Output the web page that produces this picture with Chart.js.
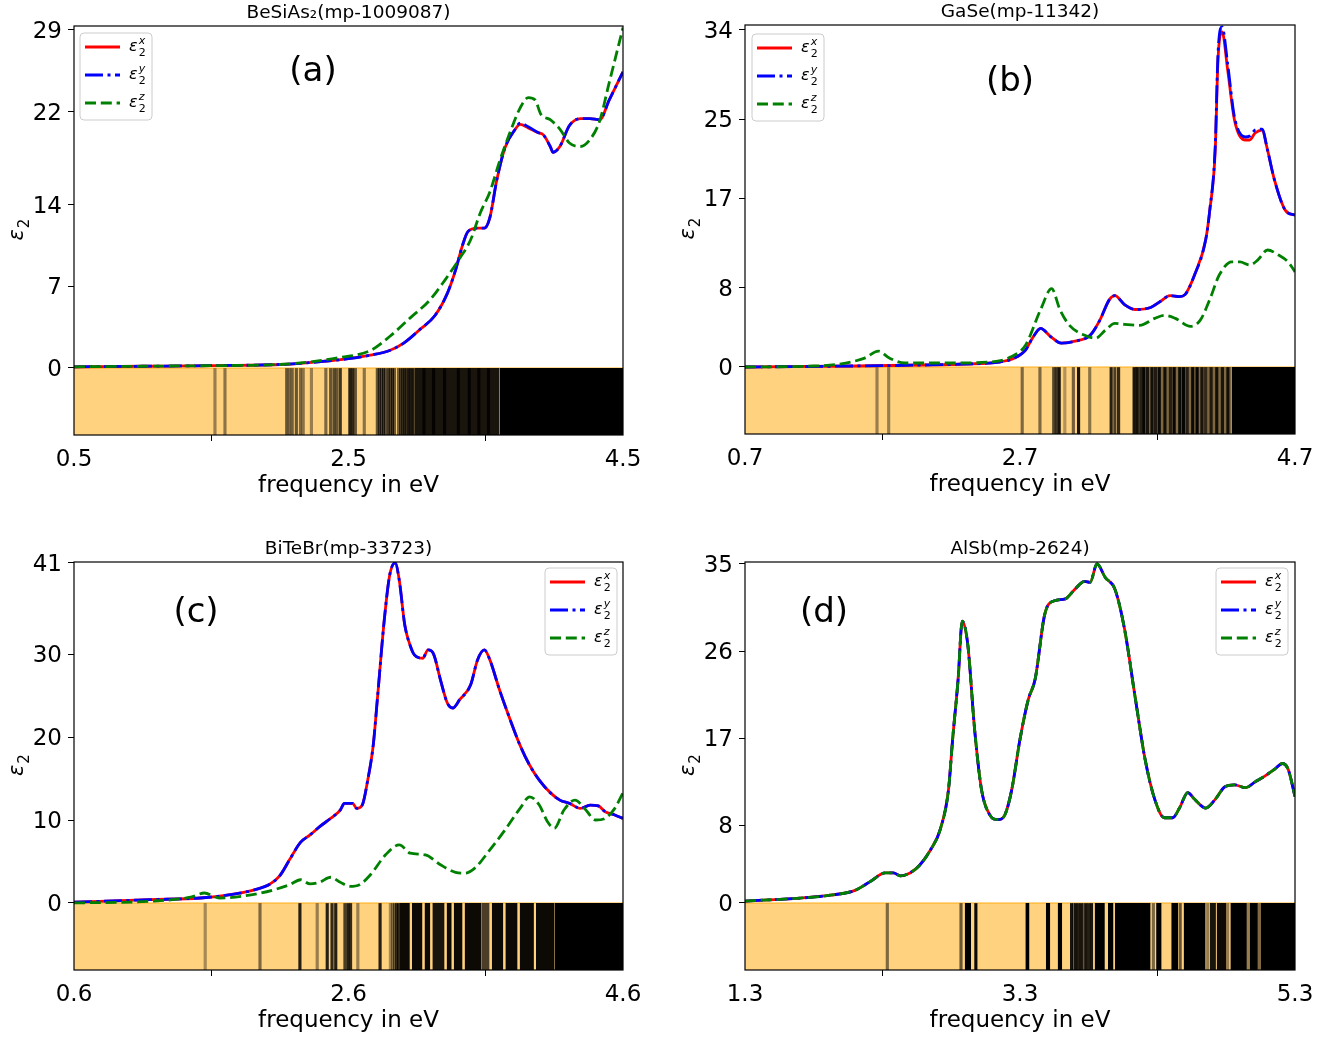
<!DOCTYPE html>
<html>
<head>
<meta charset="utf-8">
<script src="https://cdn.jsdelivr.net/npm/chart.js@4.4.0/dist/chart.umd.min.js"></script>
<style>
    html, body { margin: 0; padding: 0; background: #fff; }
    .panel { position: absolute; left: 0; top: 0; width: 1333px; height: 1039px; }
</style>
</head>
<body>
<div class="panel"><canvas id="chartA"></canvas></div>
<div class="panel"><canvas id="chartB"></canvas></div>
<div class="panel"><canvas id="chartC"></canvas></div>
<div class="panel"><canvas id="chartD"></canvas></div>
<script>
// ---- (a) BeSiAs2 ----
const aXTicks = [0.5, 2.5, 4.5];
const aYTicks = [0, 7, 14, 22, 29];
const aFreqXY = [0.5, 1.0, 1.5, 2.0, 2.15, 2.5, 2.66, 2.8, 2.91, 3.02, 3.13, 3.22, 3.28, 3.33, 3.37, 3.44, 3.49, 3.53, 3.58, 3.64, 3.71, 3.75, 3.81, 3.88, 3.92, 3.97, 3.99, 4.04, 4.11, 4.19, 4.26, 4.33, 4.40, 4.5];
const aEpsX = [0.1, 0.15, 0.2, 0.3, 0.4, 0.8, 1.1, 1.5, 2.2, 3.3, 4.5, 6.4, 8.4, 10.5, 11.7, 12.0, 12.0, 12.9, 16.1, 18.9, 20.4, 20.9, 20.6, 20.2, 20.0, 19.0, 18.5, 19.0, 20.8, 21.4, 21.4, 21.3, 23.0, 25.4];
const aEpsY = [0.1, 0.15, 0.2, 0.3, 0.4, 0.8, 1.1, 1.5, 2.2, 3.3, 4.5, 6.4, 8.4, 10.5, 11.7, 12.0, 12.0, 12.9, 16.1, 18.9, 20.4, 21.0, 20.7, 20.2, 20.0, 19.0, 18.5, 19.0, 20.8, 21.4, 21.4, 21.3, 23.0, 25.4];
const aFreqZ = [0.5, 1.0, 1.5, 2.0, 2.44, 2.66, 2.8, 2.95, 3.09, 3.2, 3.31, 3.39, 3.46, 3.53, 3.6, 3.67, 3.75, 3.81, 3.86, 3.9, 3.97, 4.04, 4.11, 4.19, 4.26, 4.33, 4.4, 4.5];
const aEpsZ = [0.1, 0.15, 0.2, 0.3, 0.9, 1.5, 2.7, 4.3, 5.8, 7.5, 9.4, 11.0, 13.3, 15.1, 17.7, 20.0, 22.3, 23.2, 23.0, 21.8, 21.3, 20.5, 19.3, 19.0, 19.6, 21.2, 24.5, 29.2];
const aLines = [1.527, 1.60, 2.05, 2.07, 2.09, 2.12, 2.15, 2.17, 2.23, 2.335, 2.37, 2.395, 2.415, 2.44, 2.51, 2.53, 2.55, 2.615,
    2.71, 2.725, 2.74, 2.755, 2.77, 2.79, 2.805, 2.82, 2.835, 2.865, 2.88, 2.895, 2.91, 2.925, 2.94, 2.955, 2.97,
    3.05, 3.12, 3.2, 3.3, 3.38, 3.45, 3.52];
const aLineAlpha = [0.4, 0.45, 0.6, 0.5, 0.55, 0.6, 0.5, 0.45, 0.4, 0.5, 0.6, 0.65, 0.6, 0.75, 0.85, 0.8, 0.6, 0.45,
    0.6, 0.7, 0.65, 0.75, 0.6, 0.7, 0.65, 0.75, 0.6, 0.55, 0.7, 0.75, 0.8, 0.7, 0.85, 0.8, 0.85,
    0.8, 0.8, 0.8, 0.8, 0.8, 0.8, 0.8];
const aBlockStart = [2.98, 3.6];
const aBlockEnd = [3.6, 4.5];
const aBlockAlpha = [0.9, 1];

// ---- (b) GaSe ----
const bXTicks = [0.7, 2.7, 4.7];
const bYTicks = [0, 8, 17, 25, 34];
const bFreqXY = [0.7, 1.5, 2.0, 2.3, 2.55, 2.66, 2.74, 2.79, 2.85, 2.92, 3.0, 3.1, 3.21, 3.28, 3.35, 3.39, 3.46, 3.54, 3.65, 3.72, 3.79, 3.86, 3.9, 3.97, 4.05, 4.08, 4.12, 4.14, 4.17, 4.21, 4.26, 4.34, 4.37, 4.41, 4.46, 4.5, 4.55, 4.63, 4.7];
const bEpsX = [0.0, 0.1, 0.2, 0.3, 0.5, 0.9, 1.7, 2.9, 3.9, 3.1, 2.4, 2.6, 3.2, 4.7, 6.8, 7.2, 6.3, 5.8, 6.0, 6.6, 7.2, 7.1, 7.3, 9.3, 12.8, 15.8, 21.9, 31.0, 33.8, 30.0, 24.9, 22.9, 22.9, 23.6, 23.9, 21.9, 18.9, 15.8, 15.3];
const bEpsY = [0.0, 0.1, 0.2, 0.3, 0.5, 0.9, 1.7, 2.9, 3.9, 3.1, 2.4, 2.6, 3.2, 4.7, 6.8, 7.2, 6.3, 5.8, 6.0, 6.6, 7.2, 7.1, 7.3, 9.3, 12.8, 15.8, 22.3, 31.6, 34.3, 30.6, 25.2, 23.2, 23.3, 23.9, 24.0, 21.9, 18.9, 15.8, 15.3];
const bFreqZ = [0.7, 1.2, 1.39, 1.57, 1.67, 1.75, 1.86, 2.2, 2.48, 2.63, 2.74, 2.85, 2.93, 2.99, 3.06, 3.17, 3.25, 3.32, 3.39, 3.46, 3.57, 3.68, 3.75, 3.83, 3.94, 4.01, 4.08, 4.15, 4.24, 4.3, 4.37, 4.43, 4.5, 4.58, 4.65, 4.7];
const bEpsZ = [0.0, 0.1, 0.3, 0.9, 1.6, 0.9, 0.4, 0.4, 0.5, 1.0, 2.2, 5.8, 7.9, 5.8, 4.2, 3.2, 2.9, 3.7, 4.4, 4.3, 4.2, 4.9, 5.2, 4.9, 4.1, 4.7, 6.8, 9.3, 10.6, 10.6, 10.3, 10.8, 11.8, 11.3, 10.6, 9.6];
const bLines = [1.66, 1.745, 2.716, 2.845, 2.945, 2.964, 2.985, 3.026, 3.088, 3.126, 3.207, 3.363, 3.39, 3.417, 3.53, 3.552, 3.579, 3.60, 3.627, 3.66, 3.686, 3.713, 3.754, 3.794, 3.821, 3.862, 3.889, 3.916, 3.956, 3.988, 4.023, 4.05, 4.09, 4.131, 4.172, 4.212];
const bLineAlpha = [0.4, 0.4, 0.5, 0.5, 0.65, 0.75, 0.9, 0.3, 0.55, 0.9, 0.45, 0.85, 0.7, 0.8, 0.9, 0.85, 0.7, 0.95, 0.8, 0.85, 0.75, 0.9, 0.85, 0.7, 0.95, 0.9, 0.95, 0.7, 0.9, 0.95, 0.8, 0.6, 0.75, 0.85, 0.8, 0.85];
const bBlockStart = [3.535, 4.24];
const bBlockEnd = [4.24, 4.7];
const bBlockAlpha = [0.5, 1];

// ---- (c) BiTeBr ----
const cXTicks = [0.6, 2.6, 4.6];
const cYTicks = [0, 10, 20, 30, 41];
const cFreqXY = [0.6, 1.15, 1.52, 1.74, 1.92, 2.03, 2.1, 2.17, 2.25, 2.32, 2.39, 2.47, 2.54, 2.57, 2.63, 2.66, 2.7, 2.74, 2.78, 2.81, 2.86, 2.9, 2.94, 2.97, 3.01, 3.05, 3.08, 3.14, 3.18, 3.22, 3.27, 3.32, 3.36, 3.41, 3.49, 3.54, 3.59, 3.63, 3.7, 3.78, 3.85, 3.92, 3.99, 4.07, 4.14, 4.21, 4.29, 4.36, 4.42, 4.47, 4.54, 4.6];
const cEpsX = [0.1, 0.4, 0.6, 1.0, 1.6, 2.3, 3.3, 5.2, 7.3, 8.2, 9.2, 10.2, 11.2, 12.0, 12.0, 11.4, 11.8, 14.8, 19.0, 24.5, 34.0, 39.5, 41.0, 38.9, 33.5, 31.0, 29.9, 29.5, 30.5, 30.0, 26.9, 24.1, 23.5, 24.5, 26.3, 29.3, 30.5, 29.3, 25.7, 22.0, 19.0, 16.6, 14.8, 13.3, 12.4, 12.0, 11.4, 11.8, 11.7, 11.0, 10.6, 10.2];
const cEpsY = [0.1, 0.4, 0.6, 1.0, 1.6, 2.3, 3.3, 5.2, 7.3, 8.2, 9.2, 10.2, 11.2, 12.0, 12.0, 11.4, 11.8, 14.8, 19.0, 24.5, 34.0, 39.5, 41.0, 38.9, 33.5, 31.0, 29.9, 29.5, 30.5, 30.0, 26.9, 24.1, 23.5, 24.5, 26.3, 29.3, 30.5, 29.3, 25.7, 22.0, 19.0, 16.6, 14.8, 13.3, 12.4, 12.0, 11.4, 11.8, 11.7, 11.0, 10.6, 10.2];
const cFreqZ = [0.6, 1.15, 1.45, 1.55, 1.66, 1.96, 2.17, 2.25, 2.32, 2.39, 2.47, 2.54, 2.61, 2.68, 2.76, 2.87, 2.97, 3.05, 3.16, 3.27, 3.38, 3.45, 3.52, 3.63, 3.74, 3.85, 3.92, 3.99, 4.05, 4.1, 4.17, 4.25, 4.32, 4.4, 4.47, 4.54, 4.6];
const cEpsZ = [0.0, 0.2, 0.7, 1.2, 0.6, 1.2, 2.2, 2.8, 2.3, 2.5, 3.1, 2.5, 2.0, 2.2, 3.4, 5.8, 7.0, 6.0, 5.8, 4.6, 3.7, 3.6, 4.2, 6.4, 8.8, 11.4, 12.8, 11.8, 9.8, 9.0, 11.2, 12.4, 11.4, 10.0, 10.2, 11.4, 13.3];
const cLines = [1.556, 1.955, 2.246, 2.372, 2.445, 2.48, 2.507, 2.574, 2.596, 2.615, 2.668, 2.83, 2.905, 2.92, 2.935, 2.95, 2.962];
const cLineAlpha = [0.35, 0.5, 0.85, 0.4, 0.85, 0.8, 0.85, 0.7, 0.85, 0.8, 0.4, 0.85, 0.35, 0.45, 0.55, 0.7, 0.8];
const cBlockStart = [2.97, 3.062, 3.154, 3.211, 3.315, 3.367, 3.446, 3.57, 3.644, 3.743, 3.847, 3.966, 4.1];
const cBlockEnd = [3.047, 3.139, 3.196, 3.30, 3.352, 3.431, 3.57, 3.628, 3.728, 3.832, 3.951, 4.1, 4.6];
const cBlockAlpha = [0.95, 0.95, 0.95, 0.9, 0.95, 0.95, 0.95, 0.7, 0.95, 0.95, 0.95, 0.95, 1];

// ---- (d) AlSb ----
const dXTicks = [1.3, 3.3, 5.3];
const dYTicks = [0, 8, 17, 26, 35];
const dFreq = [1.3, 1.7, 1.92, 2.1, 2.21, 2.32, 2.38, 2.43, 2.5, 2.57, 2.65, 2.72, 2.78, 2.81, 2.85, 2.88, 2.92, 2.97, 3.02, 3.08, 3.14, 3.19, 3.24, 3.3, 3.36, 3.41, 3.48, 3.55, 3.63, 3.7, 3.77, 3.81, 3.86, 3.92, 3.99, 4.06, 4.14, 4.21, 4.28, 4.35, 4.41, 4.46, 4.52, 4.57, 4.65, 4.72, 4.79, 4.86, 4.94, 5.01, 5.08, 5.15, 5.21, 5.25, 5.3];
const dEps = [0.2, 0.5, 0.8, 1.3, 2.2, 3.1, 3.1, 2.8, 3.1, 3.9, 5.5, 7.6, 11.7, 16.9, 23.1, 29.1, 26.7, 17.9, 11.7, 9.1, 8.6, 9.1, 11.7, 16.9, 21.0, 23.1, 29.8, 31.2, 31.4, 32.4, 33.2, 33.1, 35.0, 33.6, 32.4, 28.3, 21.0, 14.8, 10.7, 8.8, 8.8, 9.8, 11.4, 10.7, 9.8, 10.7, 12.0, 12.2, 11.9, 12.5, 13.1, 13.8, 14.4, 13.8, 11.0];
const dLines = [2.335, 2.871, 2.979, 3.675, 3.69, 3.705, 3.725, 3.745, 3.762, 3.78, 3.80, 3.82, 4.27, 4.465, 4.665, 4.81, 4.96, 5.04];
const dLineAlpha = [0.5, 0.6, 0.95, 0.9, 0.5, 0.9, 0.85, 0.9, 0.6, 0.9, 0.85, 0.9, 0.5, 0.6, 0.4, 0.4, 0.4, 0.5];
const dBlockStart = [2.898, 3.339, 3.488, 3.574, 3.843, 3.94, 3.99, 4.29, 4.40, 4.49, 4.68, 4.73, 4.83, 4.97, 5.05];
const dBlockEnd = [2.944, 3.369, 3.52, 3.607, 3.917, 3.98, 4.25, 4.33, 4.45, 4.65, 4.725, 4.80, 4.95, 5.03, 5.3];
const dBlockAlpha = [1, 1, 1, 1, 1, 1, 1, 1, 1, 1, 0.9, 0.95, 1, 1, 1];

const FONT = '"DejaVu Sans", sans-serif';
const W = 1333, H = 1039;

const panels = [
    { id: 'chartA', area: { l: 74, r: 623, t: 26, b: 435 }, yMin: -5.75, yMax: 29.34,
      xTicks: aXTicks, yTicks: aYTicks,
      curves: [[aFreqXY, aEpsX], [aFreqXY, aEpsY], [aFreqZ, aEpsZ]],
      lines: [aLines, aLineAlpha], blocks: [aBlockStart, aBlockEnd, aBlockAlpha],
      title: 'BeSiAs₂(mp-1009087)', tag: '(a)', tagX: 313, tagY: 72, legend: [80, 33] },
    { id: 'chartB', area: { l: 745, r: 1295, t: 25, b: 434 }, yMin: -6.76, yMax: 34.5,
      xTicks: bXTicks, yTicks: bYTicks,
      curves: [[bFreqXY, bEpsX], [bFreqXY, bEpsY], [bFreqZ, bEpsZ]],
      lines: [bLines, bLineAlpha], blocks: [bBlockStart, bBlockEnd, bBlockAlpha],
      title: 'GaSe(mp-11342)', tag: '(b)', tagX: 1010, tagY: 82, legend: [752, 34] },
    { id: 'chartC', area: { l: 74, r: 623, t: 562, b: 970 }, yMin: -8.08, yMax: 41.1,
      xTicks: cXTicks, yTicks: cYTicks,
      curves: [[cFreqXY, cEpsX], [cFreqXY, cEpsY], [cFreqZ, cEpsZ]],
      lines: [cLines, cLineAlpha], blocks: [cBlockStart, cBlockEnd, cBlockAlpha],
      title: 'BiTeBr(mp-33723)', tag: '(c)', tagX: 196, tagY: 613, legend: [545, 568] },
    { id: 'chartD', area: { l: 745, r: 1295, t: 562, b: 970 }, yMin: -6.92, yMax: 35.2,
      xTicks: dXTicks, yTicks: dYTicks,
      curves: [[dFreq, dEps], [dFreq, dEps], [dFreq, dEps]],
      lines: [dLines, dLineAlpha], blocks: [dBlockStart, dBlockEnd, dBlockAlpha],
      title: 'AlSb(mp-2624)', tag: '(d)', tagX: 824, tagY: 613, legend: [1216, 568] }
];

// epsilon with stacked sub/superscript, like matplotlib mathtext
function drawEps(ctx, x, y, size, sup) {
    ctx.textAlign = 'left';
    ctx.textBaseline = 'alphabetic';
    ctx.font = `italic ${size}px ${FONT}`;
    ctx.fillText('ε', x, y);
    const w = ctx.measureText('ε').width;
    const s = Math.round(size * 0.7);
    if (sup) {
        ctx.font = `italic ${s}px ${FONT}`;
        ctx.fillText(sup, x + w + 1, y - size * 0.42);
    }
    ctx.font = `${s}px ${FONT}`;
    ctx.fillText('2', x + w + 1, y + size * 0.3);
}

// frame, title, panel tag, y label and legend
const decor = {
    id: 'decor',
    afterDraw(chart, args, o) {
        const { ctx, chartArea: a } = chart;
        ctx.save();
        ctx.strokeStyle = '#000';
        ctx.lineWidth = 1.2;
        ctx.strokeRect(a.left, a.top, a.right - a.left, a.bottom - a.top);

        ctx.fillStyle = '#000';
        ctx.textAlign = 'center';
        ctx.textBaseline = 'alphabetic';
        ctx.font = `18.5px ${FONT}`;
        ctx.fillText(o.title, (a.left + a.right) / 2, a.top - 8);

        ctx.font = `34px ${FONT}`;
        ctx.textBaseline = 'middle';
        ctx.fillText(o.tag, o.tagX, o.tagY);

        // y label
        ctx.save();
        ctx.translate(a.left - 51, (a.top + a.bottom) / 2);
        ctx.rotate(-Math.PI / 2);
        drawEps(ctx, -10, 0, 21, null);
        ctx.restore();

        // legend
        const [lx, ly] = o.legend;
        ctx.beginPath();
        ctx.roundRect(lx, ly, 72, 87, 4);
        ctx.fillStyle = 'rgba(255,255,255,0.8)';
        ctx.fill();
        ctx.strokeStyle = '#cccccc';
        ctx.lineWidth = 1;
        ctx.stroke();
        chart.data.datasets.slice(0, 3).forEach((ds, i) => {
            const ry = ly + 14 + i * 28;
            ctx.beginPath();
            ctx.strokeStyle = ds.borderColor;
            ctx.lineWidth = ds.borderWidth;
            ctx.setLineDash(ds.borderDash);
            ctx.moveTo(lx + 5, ry);
            ctx.lineTo(lx + 40, ry);
            ctx.stroke();
            ctx.setLineDash([]);
            ctx.fillStyle = '#000';
            drawEps(ctx, lx + 49, ry + 4, 16, ds.sup);
        });
        ctx.restore();
    }
};

function curveSet(sup, pts, color, dash, order) {
    return {
        type: 'line', sup: sup,
        data: pts[0].map((x, i) => ({ x: x, y: pts[1][i] })),
        borderColor: color, borderWidth: 2.8, borderDash: dash,
        pointRadius: 0, fill: false, cubicInterpolationMode: 'monotone', order: order
    };
}

panels.forEach(p => {
    const a = p.area;
    const x0 = p.xTicks[0], x1 = p.xTicks[p.xTicks.length - 1];
    const blockSets = p.blocks[0].map((s, i) => ({
        type: 'line',
        data: [{ x: s, y: 0 }, { x: p.blocks[1][i], y: 0 }],
        fill: { value: p.yMin },
        backgroundColor: `rgba(0,0,0,${p.blocks[2][i]})`,
        borderColor: 'rgba(0,0,0,0)', borderWidth: 0, pointRadius: 0, order: 5
    }));
    const datasets = [
        curveSet('x', p.curves[0], '#ff0000', [], 3),
        curveSet('y', p.curves[1], '#0000ff', [18, 4.5, 3, 4.5], 2),
        curveSet('z', p.curves[2], '#008000', [11, 4.8], 1),
        {
            type: 'bar',
            data: p.lines[0].map(e => ({ x: e, y: [p.yMin, 0] })),
            backgroundColor: p.lines[1].map(al => `rgba(0,0,0,${al})`),
            barThickness: 2.5, grouped: false, order: 4
        },
        ...blockSets,
        {
            type: 'line',
            data: [{ x: x0, y: 0 }, { x: x1, y: 0 }],
            fill: { value: p.yMin },
            backgroundColor: 'rgba(255,165,0,0.5)',
            borderColor: 'rgba(255,165,0,0.6)', borderWidth: 1.5, pointRadius: 0, order: 6
        }
    ];

    new Chart(document.getElementById(p.id), {
        type: 'line',
        data: { datasets: datasets },
        options: {
            responsive: true,
            maintainAspectRatio: false,
            animation: false,
            events: [],
            layout: { padding: { left: a.l - 74, top: a.t, right: W - a.r, bottom: H - a.b - 80 } },
            plugins: {
                legend: { display: false },
                tooltip: { enabled: false },
                decor: { title: p.title, tag: p.tag, tagX: p.tagX, tagY: p.tagY, legend: p.legend }
            },
            scales: {
                x: {
                    type: 'linear', min: x0, max: x1, offset: false,
                    afterBuildTicks: s => { s.ticks = p.xTicks.map(v => ({ value: v })); },
                    afterFit: s => { s.height = 80; },
                    ticks: {
                        callback: v => v.toFixed(1), autoSkip: false, maxRotation: 0,
                        color: '#000', padding: 5, font: { family: FONT, size: 23 }
                    },
                    grid: { drawOnChartArea: false, drawTicks: true, tickLength: 6, color: '#000' },
                    border: { display: false },
                    title: {
                        display: true, text: 'frequency in eV', color: '#000',
                        font: { family: FONT, size: 23 }, padding: { top: 0, bottom: 15 }
                    }
                },
                y: {
                    type: 'linear', min: p.yMin, max: p.yMax,
                    afterBuildTicks: s => { s.ticks = p.yTicks.map(v => ({ value: v })); },
                    afterFit: s => { s.width = 74; },
                    ticks: {
                        callback: v => String(v), autoSkip: false, labelOffset: 2,
                        color: '#000', padding: 6, font: { family: FONT, size: 23 }
                    },
                    grid: { drawOnChartArea: false, drawTicks: true, tickLength: 6, color: '#000' },
                    border: { display: false }
                }
            }
        },
        plugins: [decor]
    });
});
</script>
</body>
</html>
